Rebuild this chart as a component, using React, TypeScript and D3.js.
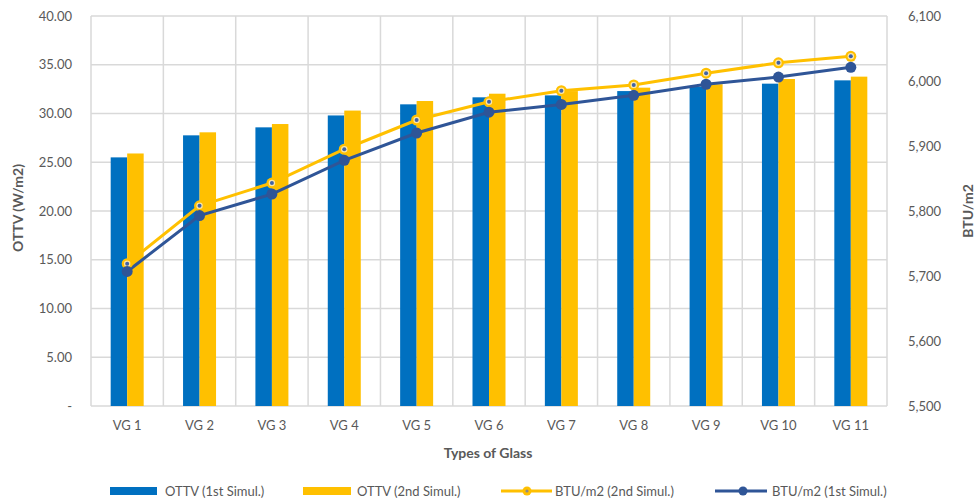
import React from "react";
import * as d3 from "d3";

const categories = ["VG 1", "VG 2", "VG 3", "VG 4", "VG 5", "VG 6", "VG 7", "VG 8", "VG 9", "VG 10", "VG 11"];
const ottv1 = [25.5, 27.76, 28.58, 29.8, 30.94, 31.66, 31.86, 32.3, 32.75, 33.06, 33.4];
const ottv2 = [25.9, 28.07, 28.92, 30.3, 31.28, 32.03, 32.3, 32.65, 33.0, 33.54, 33.78];
const btu2 = [5719, 5808, 5843, 5895, 5940, 5968, 5985, 5994, 6012, 6028, 6038];
const btu1 = [5707, 5793, 5826, 5878, 5920, 5952, 5964, 5978, 5995, 6006, 6021];
const leftTicks = [0, 5, 10, 15, 20, 25, 30, 35, 40];
const rightTicks = [5500, 5600, 5700, 5800, 5900, 6000, 6100];
const legendItems = ["OTTV (1st Simul.)", "OTTV (2nd Simul.)", "BTU/m2 (2nd Simul.)", "BTU/m2 (1st Simul.)"];

const BLUE = "#0070C0";
const YELLOW = "#FFC000";
const DARK = "#2F5597";
const GRID = "#d9d9d9";
const TXT = "#595959";
const FONT = "Lato, 'Open Sans', sans-serif";

export default function App() {
  const left = 91, right = 887, top = 16, bottom = 406;
  const x = d3.scaleBand<string>().domain(categories).range([left, right]).paddingInner(0).paddingOuter(0);
  const yL = d3.scaleLinear().domain([0, 40]).range([bottom, top]);
  const yR = d3.scaleLinear().domain([5500, 6100]).range([bottom, top]);
  const bw = 16.5;
  const cx = (c: string) => (x(c) as number) + x.bandwidth() / 2;
  const line = d3.line<number>().x((_, i) => cx(categories[i])).y((d) => yR(d));

  const boundaries = d3.range(categories.length + 1).map((i) => left + i * x.bandwidth());

  return (
    <svg width={978} height={500} style={{ position: "absolute", left: 0, top: 0, background: "#fff" }} fontFamily={FONT}>
      <rect x={0} y={0} width={978} height={500} fill="#fff" />
      {leftTicks.map((t) => (
        <line key={"h" + t} x1={left} x2={right} y1={yL(t)} y2={yL(t)} stroke={GRID} strokeWidth={1.5} />
      ))}
      {boundaries.map((b, i) => (
        <line key={"v" + i} x1={b} x2={b} y1={top} y2={bottom} stroke={GRID} strokeWidth={1.5} />
      ))}
      {categories.map((c, i) => (
        <g key={"b" + c}>
          <rect x={cx(c) - bw} y={yL(ottv1[i])} width={bw} height={bottom - yL(ottv1[i])} fill={BLUE} />
          <rect x={cx(c)} y={yL(ottv2[i])} width={bw} height={bottom - yL(ottv2[i])} fill={YELLOW} />
        </g>
      ))}
      <path d={line(btu2) || ""} fill="none" stroke={YELLOW} strokeWidth={3} />
      <path d={line(btu1) || ""} fill="none" stroke={DARK} strokeWidth={3} />
      {btu2.map((v, i) => (
        <g key={"m2" + i}>
          <circle cx={cx(categories[i])} cy={yR(v)} r={5.5} fill={YELLOW} />
          <circle cx={cx(categories[i])} cy={yR(v)} r={3.2} fill="#fbe6a8" />
          <circle cx={cx(categories[i])} cy={yR(v)} r={2} fill="#4063a8" />
        </g>
      ))}
      {btu1.map((v, i) => (
        <circle key={"m1" + i} cx={cx(categories[i])} cy={yR(v)} r={5.5} fill={DARK} />
      ))}
      {leftTicks.map((t) => (
        <text key={"lt" + t} x={72} y={yL(t)} dy="0.35em" textAnchor="end" fontSize={13} fill={TXT}>
          {t === 0 ? "-" : t.toFixed(2)}
        </text>
      ))}
      {rightTicks.map((t) => (
        <text key={"rt" + t} x={908} y={yR(t)} dy="0.35em" textAnchor="start" fontSize={13} fill={TXT}>
          {d3.format(",")(t)}
        </text>
      ))}
      {categories.map((c) => (
        <text key={"xl" + c} x={cx(c)} y={425} dy="0.35em" textAnchor="middle" fontSize={13} fill={TXT}>
          {c}
        </text>
      ))}
      <text x={488} y={453} dy="0.35em" textAnchor="middle" fontSize={14} fontWeight="bold" fill={TXT}>
        Types of Glass
      </text>
      <text transform={`translate(18,208) rotate(-90)`} dy="0.35em" textAnchor="middle" fontSize={14} fontWeight="bold" fill={TXT}>
        OTTV (W/m2)
      </text>
      <text transform={`translate(968,211) rotate(-90)`} dy="0.35em" textAnchor="middle" fontSize={14} fontWeight="bold" fill={TXT}>
        BTU/m2
      </text>
      {/* legend */}
      <rect x={110} y={487} width={47} height={8} fill={BLUE} />
      <text x={165} y={491} dy="0.35em" fontSize={13} fill={TXT}>{legendItems[0]}</text>
      <rect x={303} y={487} width={48} height={8} fill={YELLOW} />
      <text x={357} y={491} dy="0.35em" fontSize={13} fill={TXT}>{legendItems[1]}</text>
      <line x1={501} x2={552} y1={491} y2={491} stroke={YELLOW} strokeWidth={3} />
      <circle cx={527} cy={491} r={4.5} fill={YELLOW} />
      <circle cx={527} cy={491} r={1.6} fill="#8a8a8a" />
      <text x={555} y={491} dy="0.35em" fontSize={13} fill={TXT}>{legendItems[2]}</text>
      <line x1={715} x2={767} y1={491} y2={491} stroke={DARK} strokeWidth={3} />
      <circle cx={743} cy={491} r={4.5} fill={DARK} />
      <text x={772} y={491} dy="0.35em" fontSize={13} fill={TXT}>{legendItems[3]}</text>
    </svg>
  );
}
